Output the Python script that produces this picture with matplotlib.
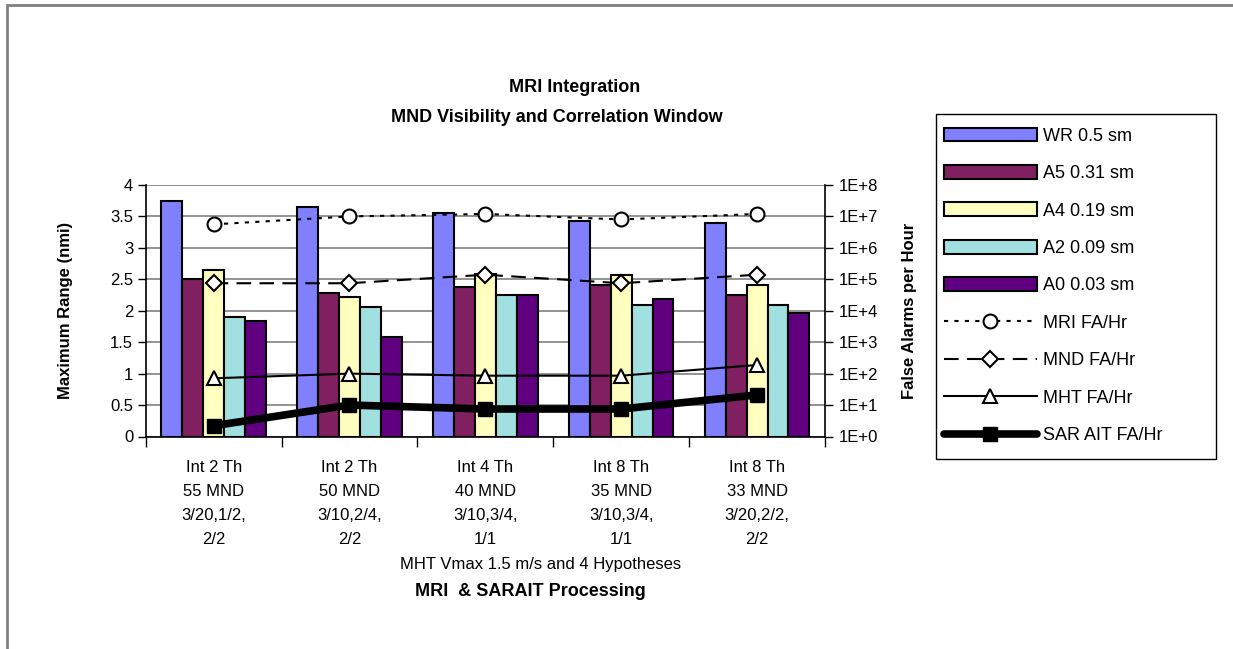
import numpy as np
import matplotlib
matplotlib.use("Agg")
import matplotlib.pyplot as plt
from matplotlib.patches import Rectangle
from matplotlib.ticker import FixedLocator, FuncFormatter

plt.rcParams['font.family'] = ['Liberation Sans', 'DejaVu Sans']

# -------------------------
# Data
# -------------------------
categories = ["Int 2 Th\n55 MND\n3/20,1/2,\n2/2",
              "Int 2 Th\n50 MND\n3/10,2/4,\n2/2",
              "Int 4 Th\n40 MND\n3/10,3/4,\n1/1",
              "Int 8 Th\n35 MND\n3/10,3/4,\n1/1",
              "Int 8 Th\n33 MND\n3/20,2/2,\n2/2"]

bar_labels = ["WR 0.5 sm", "A5 0.31 sm", "A4 0.19 sm", "A2 0.09 sm", "A0 0.03 sm"]
wr = [3.74, 3.65, 3.56, 3.43, 3.40]
a5 = [2.51, 2.29, 2.38, 2.41, 2.25]
a4 = [2.65, 2.22, 2.58, 2.57, 2.41]
a2 = [1.90, 2.06, 2.25, 2.09, 2.09]
a0 = [1.84, 1.59, 2.25, 2.19, 1.96]

line_labels = ["MRI FA/Hr", "MND FA/Hr", "MHT FA/Hr", "SAR AIT FA/Hr"]
mri_fa = [5.6e6, 1.0e7, 1.2e7, 8.0e6, 1.2e7]
mnd_fa = [7.5e4, 7.5e4, 1.4e5, 7.5e4, 1.4e5]
mht_fa = [71, 100, 86, 86, 188]
sar_fa = [2.2, 10, 7.5, 7.5, 21]

bar_colors = ["#8080FF", "#802060", "#FFFFC0", "#A0E0E0", "#600080"]

# -------------------------
# Figure
# -------------------------
W, H = 1233, 649
fig = plt.figure(figsize=(W / 100, H / 100), dpi=100)

# outer chart border (only top/left visible)
fig.patches.append(Rectangle((7 / W, -0.1), 1.2, 1 - 5 / H + 0.1, transform=fig.transFigure,
                             fill=False, edgecolor="#808080", linewidth=2, clip_on=False))

left, right, top, bottom = 145.7, 825, 185, 436.5
ax = fig.add_axes([left / W, 1 - bottom / H, (right - left) / W, (bottom - top) / H])

x = np.arange(len(categories))
n = 5
bw = 1 / (n + 1.5)
series = [wr, a5, a4, a2, a0]
for i, (vals, col, lab) in enumerate(zip(series, bar_colors, bar_labels)):
    ax.bar(x + (i - 2) * bw, vals, width=bw, color=col, edgecolor="black",
           linewidth=1.5, label=lab, zorder=3)

ax.set_xlim(-0.5, 4.5)
ax.set_ylim(0, 4)
ax.set_yticks(np.arange(0, 4.01, 0.5))
ax.set_yticklabels(["0", "0.5", "1", "1.5", "2", "2.5", "3", "3.5", "4"])
ax.yaxis.grid(True, color="#808080", linewidth=1.2, zorder=0)
ax.set_xticks(x)
ax.set_xticklabels(categories, linespacing=1.76)
ax.xaxis.set_minor_locator(FixedLocator(np.arange(-0.5, 5, 1)))
ax.tick_params(axis="x", which="major", length=0, pad=17, labelsize=12)
ax.tick_params(axis="x", which="minor", length=7, width=1, direction="out")
ax.tick_params(axis="y", length=6, width=1, direction="out", labelsize=12, pad=3)
for s in ["top", "right"]:
    ax.spines[s].set_visible(False)
ax.spines["left"].set_linewidth(1.2)
ax.spines["bottom"].set_linewidth(1.2)
ax.set_ylabel("Maximum Range (nmi)", fontsize=12, fontweight="bold", labelpad=27)

# secondary log axis
ax2 = ax.twinx()
ax2.set_yscale("log")
ax2.set_ylim(1, 1e8)
ax2.yaxis.set_major_locator(FixedLocator([10.0 ** k for k in range(9)]))
ax2.yaxis.set_minor_locator(FixedLocator([]))
ax2.yaxis.set_major_formatter(FuncFormatter(lambda v, p: "1E+%d" % round(np.log10(v))))
ax2.tick_params(axis="y", length=6, width=1, direction="out", labelsize=12, pad=4)
for s in ["top", "left", "bottom"]:
    ax2.spines[s].set_visible(False)
ax2.spines["right"].set_linewidth(1.2)
ax2.set_ylabel("False Alarms per Hour", fontsize=12, fontweight="bold", labelpad=17)

ax2.plot(x, mri_fa, color="black", linestyle=(0, (2, 3)), linewidth=1.5, marker="o",
         markersize=10, markerfacecolor="white", markeredgecolor="black",
         markeredgewidth=1.5, label=line_labels[0], zorder=4)
ax2.plot(x, mnd_fa, color="black", linestyle=(0, (7, 4)), linewidth=1.5, marker="D",
         markersize=8, markerfacecolor="white", markeredgecolor="black",
         markeredgewidth=1.5, label=line_labels[1], zorder=4)
ax2.plot(x, mht_fa, color="black", linestyle="-", linewidth=1.5, marker="^",
         markersize=10, markerfacecolor="white", markeredgecolor="black",
         markeredgewidth=1.5, label=line_labels[2], zorder=4)
ax2.plot(x, sar_fa, color="black", linestyle="-", linewidth=5.5, marker="s",
         markersize=10, markerfacecolor="black", markeredgecolor="black",
         label=line_labels[3], zorder=5, solid_capstyle="round")

# titles
fig.text(575 / W, 1 - 88 / H, "MRI Integration", ha="center", va="center",
         fontsize=13, fontweight="bold")
fig.text(557 / W, 1 - 118 / H, "MND Visibility and Correlation Window", ha="center",
         va="center", fontsize=13, fontweight="bold")
fig.text(541 / W, 1 - 565 / H, "MHT Vmax 1.5 m/s and 4 Hypotheses", ha="center",
         va="center", fontsize=12)
fig.text(530 / W, 1 - 591 / H, "MRI  & SARAIT Processing", ha="center", va="center",
         fontsize=13, fontweight="bold")

# legend (frame drawn separately)
h1, l1 = ax.get_legend_handles_labels()
h2, l2 = ax2.get_legend_handles_labels()
leg = fig.legend(h1 + h2, l1 + l2, loc="upper left",
                 bbox_to_anchor=(944 / W, 1 - 127.5 / H), fontsize=13,
                 frameon=False, handlelength=5.15, handleheight=0.78,
                 labelspacing=1.13, handletextpad=0.35, borderpad=0, borderaxespad=0)
fig.patches.append(Rectangle((936 / W, 1 - 459 / H), (1216 - 936) / W, (459 - 114) / H,
                             transform=fig.transFigure, fill=False, edgecolor="black",
                             linewidth=1))

fig.savefig("out.png", dpi=100)
